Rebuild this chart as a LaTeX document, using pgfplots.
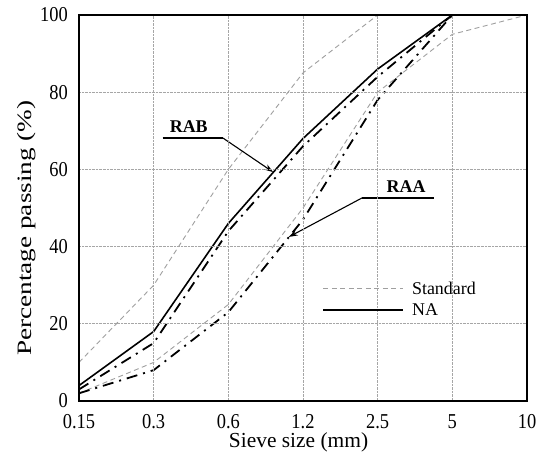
\documentclass[border=0pt]{standalone}
\usepackage{fontspec}
\setmainfont{Liberation Serif}
\usepackage{pgfplots}
\pgfplotsset{compat=1.18}
\usetikzlibrary{arrows.meta,calc}

\begin{document}
\begin{tikzpicture}
\begin{axis}[
  scale only axis, width=448bp, height=386bp,
  xmin=0, xmax=6, ymin=0, ymax=100,
  xtick={0,1,2,3,4,5,6}, xticklabels={0.15,0.3,0.6,1.2,2.5,5,10},
  ytick={0,20,40,60,80,100},
  axis on top,
  grid=major, major grid style={gray!70, densely dotted, line width=0.6bp},
  major tick length=0pt,
  axis line style={line width=1.4bp},
  /pgf/number format/assume math mode=true,
  tick label style={font=\fontsize{18.5}{18.5}\selectfont, yscale=1.15, inner sep=1bp},
  xticklabel shift=12bp, yticklabel shift=10bp,
  xlabel={Sieve size (mm)}, ylabel={Percentage passing (\%)},
  xlabel style={font=\fontsize{21.5}{21.5}\selectfont, at={(axis description cs:0.49,-0.121)}, anchor=base, inner sep=1bp},
  ylabel style={font=\fontsize{20.5}{20.5}\selectfont, at={(axis description cs:-0.118,0.448)}, anchor=center, xscale=1.33},
  clip=false,
  legend style={at={(axis description cs:0.543,0.315)}, anchor=north west, draw=none, fill=none,
    font=\fontsize{18}{18}\selectfont, row sep=4bp, inner sep=0pt,
    /tikz/every odd column/.append style={column sep=6bp}},
  legend cell align=left,
  legend image code/.code={\draw[#1] (0bp,0bp) -- (80bp,0bp);},
]
% Standard envelope
\addplot[gray!75, line width=0.9bp, dash pattern=on 5bp off 3.5bp] coordinates {(0,2) (1,10) (2,25) (3,50) (4,80) (5,95) (6,100)};
\addlegendentry{Standard}
\addplot[forget plot, gray!75, line width=0.9bp, dash pattern=on 5bp off 3.5bp] coordinates {(0,10) (1,30) (2,60) (3,85) (4,100) (5,100) (6,100)};
% NA
\addplot[black, line width=1.6bp] coordinates {(0,4) (1,18) (2,46) (3,68) (4,86) (5,100) (6,100)};
\addlegendentry{NA}
% RAB
\addplot[forget plot, black, line width=1.8bp, dash pattern=on 11bp off 6bp on 2bp off 6bp] coordinates {(0,3) (1,15) (2,44) (3,66) (4,84) (5,100) (6,100)};
% RAA
\addplot[forget plot, black, line width=1.8bp, dash pattern=on 11bp off 6bp on 2bp off 6bp] coordinates {(0,2) (1,8) (2,23) (3,47) (4,78) (5,100) (6,100)};
% annotations
\node[font=\bfseries\fontsize{18}{18}\selectfont, anchor=base] at (axis cs:1.47,69.6) {RAB};
\draw[line width=1.3bp] (axis cs:1.12,68.1) -- (axis cs:1.93,68.1);
\draw[line width=1.1bp, -{Stealth[length=9bp,width=6bp]}] (axis cs:1.93,68.1) -- (axis cs:2.60,59.3);
\node[font=\bfseries\fontsize{18}{18}\selectfont, anchor=base] at (axis cs:4.38,53.9) {RAA};
\draw[line width=1.3bp] (axis cs:3.79,52.6) -- (axis cs:4.75,52.6);
\draw[line width=1.1bp, -{Stealth[length=9bp,width=6bp]}] (axis cs:3.79,52.6) -- (axis cs:2.81,42.5);
\coordinate (sw) at (rel axis cs:0,0);
\coordinate (ne) at (rel axis cs:1,1);
\end{axis}
\pgfresetboundingbox
\path ($(sw)+(-79bp,-52bp)$) rectangle ($(ne)+(19bp,15bp)$);
\end{tikzpicture}
\end{document}
